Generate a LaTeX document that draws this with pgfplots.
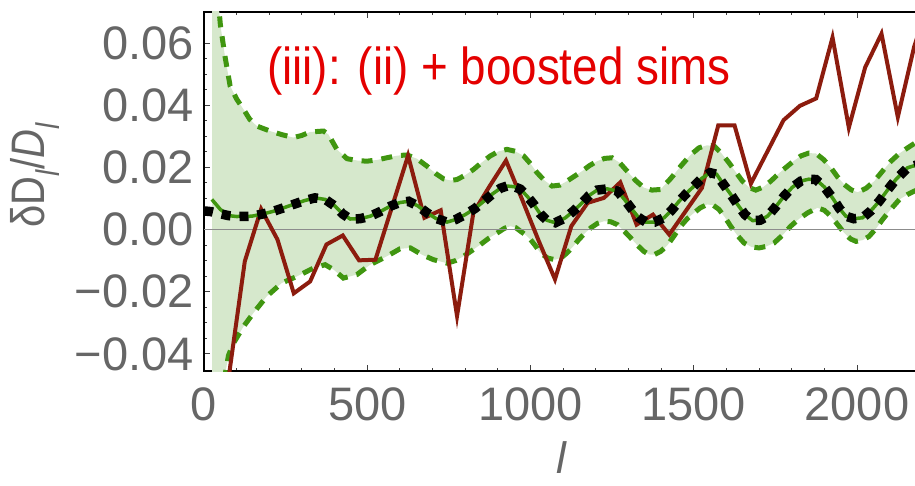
\documentclass[border=0pt]{standalone}
\usepackage{fontspec}
\setmainfont{Liberation Sans}
\usepackage{pgfplots}
\pgfplotsset{compat=1.18}
\usepgfplotslibrary{fillbetween}
\definecolor{bandfill}{RGB}{214,232,204}
\definecolor{bandgreen}{RGB}{64,150,16}
\definecolor{simred}{RGB}{140,28,14}
\definecolor{titlered}{RGB}{228,0,0}
\definecolor{labgray}{RGB}{102,102,102}
\begin{document}
\begin{tikzpicture}
\begin{axis}[
  scale only axis, width=718.3pt, height=359pt,
  xmin=0, xmax=2200, ymin=-0.0455, ymax=0.07,
  axis line style={black, line width=2pt},
  scaled x ticks=false, scaled y ticks=false,
  xtick={0,500,1000,1500,2000},
  xticklabels={0,500,1000,1500,2000},
  ytick={-0.04,-0.02,0,0.02,0.04,0.06},
  yticklabels={−0.04,−0.02,0.00,0.02,0.04,0.06},
  minor x tick num=4, minor y tick num=3,
  tick align=inside, xtick pos=both, ytick pos=left,
  xticklabel pos=left, yticklabel pos=left,
  major tick length=6pt, minor tick length=3pt,
  every tick/.style={black!75, line width=1pt},
  tick label style={font=\fontsize{47}{50}\selectfont, text=labgray, inner sep=0pt},
  yticklabel style={anchor=east, xshift=-10pt},
  xticklabel style={anchor=north, yshift=-16pt},
  clip=true,
]
% upper bound
\addplot[bandgreen, line width=5pt, dash pattern=on 11pt off 9pt, name path=U] coordinates {
(25,0.12) (35,0.09) (45,0.072) (50,0.066) (64,0.0559) (80,0.0462) (100,0.042) (121,0.0387) (140,0.0355) (162,0.0333) (202,0.0317) (240,0.0305) (274,0.0296) (300,0.0303) (325,0.0314) (366,0.0317) (381,0.0306) (407,0.0258) (438,0.0228) (470,0.0222) (499,0.022) (530,0.0224) (560,0.0231) (592,0.0238) (622,0.024) (652,0.0228) (683,0.0204) (710,0.0180) (734,0.0163) (755,0.0158) (775,0.0161) (800,0.0175) (826,0.0194) (852,0.0217) (877,0.0237) (903,0.0252) (928,0.0258) (953,0.0252) (979,0.0237) (1000,0.0212) (1020,0.0183) (1043,0.0158) (1066,0.014) (1090,0.0143) (1112,0.0156) (1135,0.0172) (1158,0.0188) (1181,0.0206) (1204,0.022) (1227,0.0229) (1250,0.0231) (1273,0.0215) (1296,0.0188) (1322,0.0158) (1347,0.0135) (1372,0.0127) (1398,0.0129) (1430,0.0165) (1460,0.0204) (1490,0.0240) (1516,0.0263) (1540,0.0271) (1562,0.0269) (1585,0.0245) (1608,0.0215) (1630,0.0183) (1649,0.0156) (1670,0.0135) (1690,0.0127) (1713,0.0137) (1736,0.0156) (1762,0.0182) (1787,0.0204) (1808,0.0222) (1828,0.0237) (1852,0.0246) (1874,0.0245) (1898,0.0225) (1920,0.0199) (1940,0.0170) (1961,0.0145) (1982,0.0128) (2002,0.012) (2028,0.0133) (2053,0.0156) (2078,0.0188) (2104,0.022) (2130,0.0245) (2155,0.0263) (2180,0.028) (2200,0.029)
};
% lower bound
\addplot[bandgreen, line width=5pt, dash pattern=on 11pt off 9pt, name path=L] coordinates {
(25,-0.10) (45,-0.065) (60,-0.05) (67,-0.0452) (75,-0.0405) (90,-0.0366) (121,-0.0312) (151,-0.0269) (192,-0.0215) (238,-0.0172) (284,-0.0151) (335,-0.0124) (371,-0.0113) (397,-0.0129) (427,-0.0156) (468,-0.0145) (509,-0.0113) (560,-0.0086) (600,-0.0062) (632,-0.0059) (668,-0.0081) (703,-0.0097) (744,-0.0108) (770,-0.0100) (795,-0.0086) (820,-0.0068) (847,-0.0048) (872,-0.0028) (898,-0.0011) (920,0.0004) (939,0.0011) (955,0.0006) (969,-0.0005) (985,-0.0017) (1000,-0.0032) (1015,-0.0052) (1030,-0.0075) (1053,-0.0092) (1076,-0.0097) (1095,-0.009) (1112,-0.0075) (1130,-0.0055) (1148,-0.0032) (1166,-0.0012) (1184,0.0005) (1205,0.0020) (1225,0.0027) (1246,0.0025) (1266,0.0016) (1287,-0.0005) (1307,-0.0027) (1327,-0.0050) (1347,-0.007) (1363,-0.0080) (1378,-0.0081) (1399,-0.007) (1419,-0.0051) (1440,-0.002) (1460,0.0011) (1480,0.0035) (1501,0.0054) (1520,0.0070) (1542,0.0081) (1560,0.0078) (1577,0.0065) (1595,0.0040) (1613,0.0011) (1633,-0.0018) (1654,-0.0043) (1677,-0.0056) (1700,-0.0059) (1723,-0.0054) (1746,-0.0043) (1772,-0.0018) (1797,0.0011) (1823,0.0035) (1849,0.0054) (1879,0.007) (1900,0.0062) (1920,0.0043) (1940,0.0017) (1961,-0.0011) (1980,-0.0030) (1997,-0.0038) (2017,-0.0034) (2037,-0.0022) (2058,0.0003) (2078,0.0032) (2104,0.0066) (2130,0.0097) (2155,0.0113) (2176,0.0124) (2200,0.0132)
};
\addplot[fill=bandfill, draw=none] fill between[of=U and L];
% zero line
\addplot[black!45, line width=1pt] coordinates {(0,0) (2200,0)};
% simulations
\addplot[simred, line width=4pt] coordinates {
(75,-0.048) (125,-0.0102) (175,0.0066) (225,-0.0032) (275,-0.0205) (325,-0.0167) (375,-0.0048) (425,-0.0019) (475,-0.0099) (525,-0.0097) (575,0.0070) (625,0.0238) (675,0.0038) (725,0.0062) (775,-0.0278) (825,0.0054) (875,0.0140) (925,0.0222) (975,0.0095) (1025,-0.0036) (1075,-0.0160) (1125,0.0011) (1175,0.0086) (1225,0.0102) (1275,0.0152) (1325,0.0016) (1375,0.0048) (1425,-0.0016) (1475,0.0059) (1525,0.0134) (1575,0.0335) (1625,0.0335) (1675,0.0148) (1725,0.025) (1775,0.0352) (1825,0.0398) (1875,0.0422) (1925,0.0618) (1975,0.0328) (2025,0.0522) (2075,0.0630) (2125,0.0362) (2175,0.0588) (2225,0.075)
};
% green mean
\addplot[bandgreen, line width=3.5pt] coordinates {
(24,0.0097) (50,0.0065) (75,0.0045) (100,0.0042) (146,0.0043) (180,0.005) (213,0.0059) (244,0.0070) (274,0.0081) (307,0.0093) (340,0.0102) (371,0.0097) (402,0.0075) (425,0.0050) (448,0.0034) (478,0.0035) (509,0.0043) (540,0.0058) (570,0.0075) (600,0.0087) (627,0.0091) (655,0.0076) (683,0.0054) (710,0.0036) (744,0.0024) (770,0.0032) (800,0.0048) (830,0.0068) (857,0.0091) (884,0.0115) (908,0.0133) (928,0.014) (950,0.0138) (969,0.0130) (990,0.0107) (1010,0.0081) (1030,0.0050) (1050,0.0030) (1076,0.0022) (1107,0.0038) (1132,0.0060) (1158,0.0086) (1180,0.0110) (1204,0.0127) (1235,0.0131) (1266,0.0124) (1287,0.0098) (1307,0.007) (1330,0.0040) (1353,0.0024) (1380,0.0024) (1409,0.0038) (1432,0.0062) (1455,0.0091) (1478,0.0117) (1501,0.014) (1525,0.0165) (1550,0.0183) (1570,0.0178) (1588,0.015) (1612,0.0115) (1634,0.0081) (1657,0.0048) (1680,0.0029) (1703,0.0030) (1726,0.0043) (1750,0.0072) (1777,0.0108) (1802,0.0136) (1828,0.0156) (1852,0.0162) (1874,0.0161) (1900,0.0137) (1925,0.0102) (1946,0.0068) (1966,0.0043) (1990,0.0035) (2017,0.0038) (2042,0.0060) (2068,0.0091) (2094,0.0128) (2119,0.0161) (2155,0.0199) (2180,0.0207) (2200,0.0212)
};
% black theory
\addplot[black, line width=9.5pt, dash pattern=on 9pt off 9pt] coordinates {
(0,0.0060) (20,0.0058) (45,0.0052) (75,0.0045) (100,0.0042) (146,0.0043) (180,0.005) (213,0.0059) (244,0.0070) (274,0.0081) (307,0.0093) (340,0.0102) (371,0.0097) (402,0.0075) (425,0.0050) (448,0.0034) (478,0.0035) (509,0.0043) (540,0.0058) (570,0.0075) (600,0.0087) (627,0.0091) (655,0.0076) (683,0.0054) (710,0.0036) (744,0.0024) (770,0.0032) (800,0.0048) (830,0.0068) (857,0.0091) (884,0.0115) (908,0.0133) (928,0.014) (950,0.0138) (969,0.0130) (990,0.0107) (1010,0.0081) (1030,0.0050) (1050,0.0030) (1076,0.0022) (1107,0.0038) (1132,0.0060) (1158,0.0086) (1180,0.0110) (1204,0.0127) (1235,0.0131) (1266,0.0124) (1287,0.0098) (1307,0.007) (1330,0.0040) (1353,0.0024) (1380,0.0024) (1409,0.0038) (1432,0.0062) (1455,0.0091) (1478,0.0117) (1501,0.014) (1525,0.0165) (1550,0.0183) (1570,0.0178) (1588,0.015) (1612,0.0115) (1634,0.0081) (1657,0.0048) (1680,0.0029) (1703,0.0030) (1726,0.0043) (1750,0.0072) (1777,0.0108) (1802,0.0136) (1828,0.0156) (1852,0.0162) (1874,0.0161) (1900,0.0137) (1925,0.0102) (1946,0.0068) (1966,0.0043) (1990,0.0035) (2017,0.0038) (2042,0.0060) (2068,0.0091) (2094,0.0128) (2119,0.0161) (2155,0.0199) (2180,0.0207) (2200,0.0212)
};
\end{axis}
% annotation and labels (coordinates in pt; axis box lower-left at origin)
\node[anchor=base west, inner sep=0pt, text=titlered, font=\fontsize{52}{56}\selectfont] at (63pt,286pt) {\scalebox{0.88}[1]{(iii): (ii) + boosted sims}};
\node[rotate=90, inner sep=0pt, text=labgray, font=\fontsize{47}{50}\selectfont] at (-169pt,196pt) {\scalebox{0.85}[1]{δD\textsubscript{\textit{l}}/\textit{D}\textsubscript{\textit{l}}}};
\node[inner sep=0pt, text=labgray, font=\fontsize{44}{48}\selectfont] at (358pt,-87pt) {\textit{l}};
\pgfresetboundingbox
\useasboundingbox (-204pt,-114pt) rectangle (711pt,371pt);
\end{tikzpicture}
\end{document}
